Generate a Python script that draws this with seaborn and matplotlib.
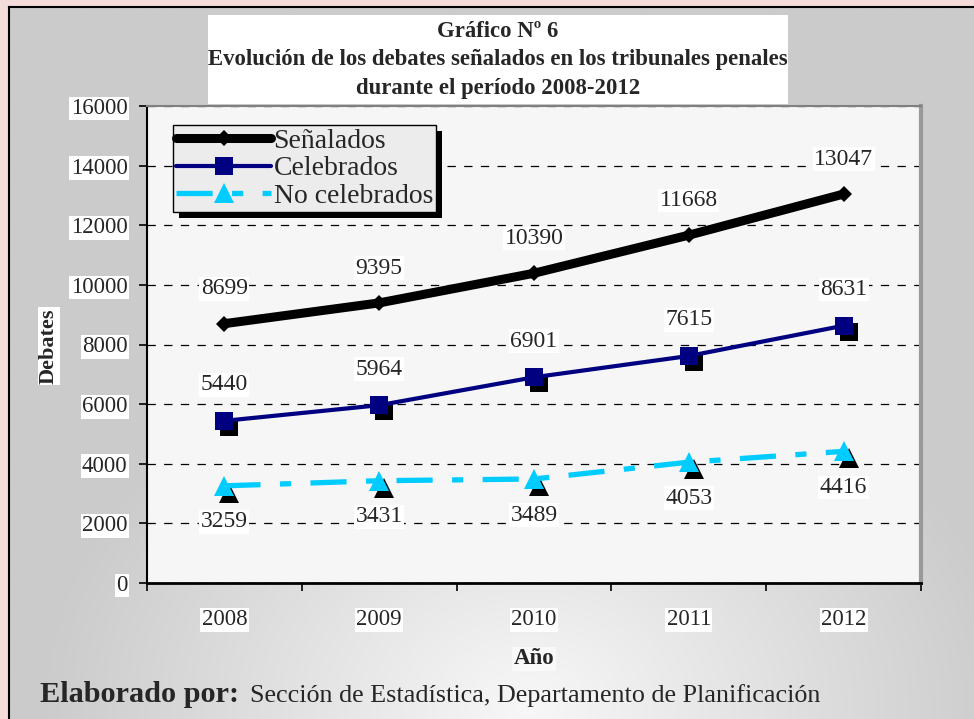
import numpy as np
import pandas as pd
import matplotlib
matplotlib.use("Agg")
import matplotlib.pyplot as plt
import matplotlib.transforms as mtransforms
from matplotlib.patches import Rectangle
import seaborn as sns

# data
years = [2008, 2009, 2010, 2011, 2012]
senalados = [8699, 9395, 10390, 11668, 13047]
celebrados = [5440, 5964, 6901, 7615, 8631]
no_celebrados = [3259, 3431, 3489, 4053, 4416]
y_ticks = [0, 2000, 4000, 6000, 8000, 10000, 12000, 14000, 16000]

df = pd.DataFrame({"Año": years, "Señalados": senalados,
                   "Celebrados": celebrados, "No celebrados": no_celebrados})

sns.set_style("white")
plt.rcParams["font.family"] = ["Liberation Serif", "DejaVu Serif"]
plt.rcParams["lines.scale_dashes"] = False

W, H = 974, 719
fig = plt.figure(figsize=(W / 100, H / 100), dpi=100)
fig.patch.set_facecolor("#f3dcd9")

# gray gradient frame
bg = fig.add_axes([9 / W, 0, (W - 9) / W, (H - 7) / H])
gx, gy = np.meshgrid(np.linspace(0, W - 9, 300), np.linspace(0, H - 7, 220))
r = np.sqrt(((gx - 520) / 1.0) ** 2 + ((gy - 700) * 1.3) ** 2)
val = 0.97 - 0.17 * np.clip(r / 480, 0, 1)
bg.imshow(np.dstack([val, val, val]), extent=[0, 1, 0, 1], aspect="auto",
          origin="upper", interpolation="bilinear")
bg.set_xticks([])
bg.set_yticks([])
for s in ["right", "bottom"]:
    bg.spines[s].set_visible(False)
for s in ["top", "left"]:
    bg.spines[s].set_color("black")
    bg.spines[s].set_linewidth(1.5)

# title box
fig.patches.append(Rectangle((208 / W, (H - 104) / H), 580 / W, 89 / H,
                             transform=fig.transFigure, facecolor="white",
                             edgecolor="none", zorder=1))
fig.text(498 / W, (H - 60) / H,
         "Gráfico Nº 6\nEvolución de los debates señalados en los tribunales penales\ndurante el período 2008-2012",
         ha="center", va="center", fontsize=16.4, fontweight="bold",
         linespacing=1.48, zorder=2)

ax = fig.add_axes([147 / W, (H - 583) / H, 774 / W, 477 / H])
ax.set_facecolor("#f6f6f6")

sh_sq = mtransforms.offset_copy(ax.transData, fig=fig, x=5, y=-6, units="dots")
sh_tri = mtransforms.offset_copy(ax.transData, fig=fig, x=5, y=-7, units="dots")

# shadows
sns.lineplot(data=df, x="Año", y="Celebrados", ax=ax, color="black",
             linestyle="none", marker="s", markersize=13, markeredgewidth=0,
             transform=sh_sq, zorder=2.6)
sns.lineplot(data=df, x="Año", y="No celebrados", ax=ax, color="black",
             linestyle="none", marker="^", markersize=15, markeredgewidth=0,
             transform=sh_tri, zorder=2.6)

sns.lineplot(data=df, x="Año", y="Señalados", ax=ax, color="black",
             linewidth=6.5, marker="D", markersize=8, markeredgewidth=0,
             label="Señalados", zorder=3)
sns.lineplot(data=df, x="Año", y="Celebrados", ax=ax, color="#000080",
             linewidth=3, marker="s", markersize=13, markeredgewidth=0,
             label="Celebrados", zorder=3)
sns.lineplot(data=df, x="Año", y="No celebrados", ax=ax, color="#00ccff",
             linewidth=3.8, marker="^", markersize=15, markeredgewidth=0,
             linestyle=(0, (26, 14, 8, 14)), label="No celebrados", zorder=3)

lbl_box = dict(facecolor="white", edgecolor="none", pad=1)
for series, dy in [(senalados, 25), (celebrados, 26), (no_celebrados, -26)]:
    for x, v in zip(years, series):
        ax.annotate(str(v), (x, v), xytext=(0, dy), textcoords="offset points",
                    ha="center", va="center", fontsize=17, bbox=lbl_box,
                    zorder=4)

ax.set_xlim(years[0] - 0.5, years[-1] + 0.5)
ax.set_ylim(0, 16000)
ax.set_yticks(y_ticks)
ax.set_xticks([y - 0.5 for y in years] + [years[-1] + 0.5])
ax.set_xticklabels([])
ax.set_xticks(years, minor=True)
ax.set_xticklabels([str(y) for y in years], minor=True)
ax.tick_params(axis="x", which="major", direction="out", length=6,
               width=1.2, color="black", bottom=True)
ax.tick_params(axis="x", which="minor", length=0, pad=19, labelsize=16.5)
ax.tick_params(axis="y", direction="out", length=6, width=1.2,
               color="black", left=True, pad=8, labelsize=16.5)
for t in ax.get_yticklabels() + ax.get_xticklabels(minor=True):
    t.set_bbox(dict(facecolor="white", edgecolor="none", pad=1))

ax.yaxis.grid(True, color="black", linewidth=0.9, linestyle=(0, (6, 6)))
ax.xaxis.grid(False)
ax.set_xlabel("")
ax.set_ylabel("")
ax.spines["left"].set_color("black")
ax.spines["left"].set_linewidth(1.5)
ax.spines["bottom"].set_color("black")
ax.spines["bottom"].set_linewidth(2)
ax.spines["top"].set_color("#808080")
ax.spines["top"].set_linewidth(1.5)
ax.spines["right"].set_color("#999999")
ax.spines["right"].set_linewidth(3)

leg = ax.legend(loc="upper left", bbox_to_anchor=(26 / 774, (583 - 125) / 477),
                borderaxespad=0, fontsize=20, handlelength=3.4,
                handletextpad=0.1, labelspacing=0.08, borderpad=0.12,
                frameon=True, fancybox=False, facecolor="#ececec",
                edgecolor="black", framealpha=1)
leg.get_frame().set_linewidth(1)
leg.set_zorder(6)

fig.canvas.draw()
bb = leg.get_window_extent()
ax.add_patch(Rectangle((bb.x0 + 6, bb.y0 - 6), bb.width, bb.height,
                       transform=None, facecolor="black", edgecolor="none",
                       zorder=5.5))

fig.text(49 / W, (H - 346) / H, "Debates", rotation=90, ha="center",
         va="center", fontsize=16, fontweight="bold",
         bbox=dict(facecolor="white", edgecolor="none", pad=1))
fig.text(534 / W, (H - 659) / H, "Año", ha="center", va="center",
         fontsize=16.5, fontweight="bold",
         bbox=dict(facecolor="white", edgecolor="none", pad=1, alpha=0.6))
fig.text(40 / W, 17 / H, "Elaborado por:", ha="left", va="baseline",
         fontsize=21.8, fontweight="bold")
fig.text(250 / W, 17 / H, "Sección de Estadística, Departamento de Planificación",
         ha="left", va="baseline", fontsize=18.8)

fig.savefig("out.png", dpi=100)
